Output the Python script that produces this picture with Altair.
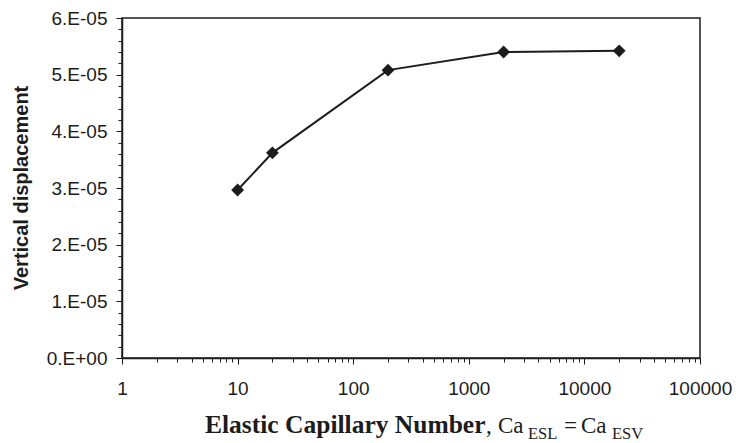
import altair as alt
import pandas as pd

# ---- data ----
ca_values = [10, 20, 200, 2000, 20000]
displacement = [2.965e-05, 3.62e-05, 5.08e-05, 5.40e-05, 5.42e-05]

x_tick_values = [1, 10, 100, 1000, 10000, 100000]
x_tick_labels = ["1", "10", "100", "1000", "10000", "100000"]
y_tick_values = [0, 1e-05, 2e-05, 3e-05, 4e-05, 5e-05, 6e-05]
y_tick_labels = ["0.E+00", "1.E-05", "2.E-05", "3.E-05", "4.E-05", "5.E-05", "6.E-05"]

y_title = "Vertical displacement"
x_title_main = "Elastic Capillary Number"

df = pd.DataFrame({"ca": ca_values, "disp": displacement})

x_minor = [d * 10 ** k for k in range(5) for d in range(2, 10)]
y_minor = [round(k * 2e-06, 12) for k in range(31) if k % 5 != 0]


def label_expr(values, labels):
    vals = "[" + ",".join(repr(v) for v in values) + "]"
    labs = "[" + ",".join("'" + l + "'" for l in labels) + "]"
    return f"indexof({vals}, datum.value) >= 0 ? {labs}[indexof({vals}, datum.value)] : ''"


def major_test(values):
    vals = "[" + ",".join(repr(v) for v in values) + "]"
    return f"indexof({vals}, datum.value) >= 0"


W, H = 578, 340
LABEL_FONT = "Liberation Sans"
SERIF = "Liberation Serif"
INK = "#1c1c1c"

x_enc = alt.X(
    "ca:Q",
    scale=alt.Scale(type="log", domain=[1, 100000], nice=False),
    axis=alt.Axis(
        values=x_tick_values + x_minor,
        labelExpr=label_expr(x_tick_values, x_tick_labels),
        tickSize={"condition": {"test": major_test(x_tick_values), "value": 6}, "value": 4},
        labelPadding=15,
        labelFlush=False,
        labelOverlap=False,
        labelFont=LABEL_FONT,
        labelFontSize=19,
        labelColor=INK,
        grid=False,
        title=None,
        domainColor=INK,
        domainWidth=1.5,
        tickColor=INK,
        tickWidth=1,
    ),
)
y_enc = alt.Y(
    "disp:Q",
    scale=alt.Scale(domain=[0, 6e-05], nice=False, zero=True),
    axis=alt.Axis(
        values=y_tick_values + y_minor,
        labelExpr=label_expr(y_tick_values, y_tick_labels),
        tickSize={"condition": {"test": major_test(y_tick_values), "value": 6}, "value": 4},
        labelPadding=9,
        labelOverlap=False,
        labelFont=LABEL_FONT,
        labelFontSize=19,
        labelColor=INK,
        grid=False,
        title=None,
        domainColor=INK,
        domainWidth=1.5,
        tickColor=INK,
        tickWidth=1,
    ),
)

base = alt.Chart(df).encode(x=x_enc, y=y_enc)
line = base.mark_line(color=INK, strokeWidth=2)
points = base.mark_point(shape="diamond", filled=True, size=165, color=INK, opacity=1)

note = alt.Chart(pd.DataFrame({"t": [0]}))

ytitle = note.mark_text(
    text=y_title, font=LABEL_FONT, fontSize=20, fontWeight="bold", angle=270,
    align="center", baseline="alphabetic", color=INK,
).encode(x=alt.value(-94), y=alt.value(170))

BASE_Y = 415
SUB_Y = 421
xt1 = note.mark_text(text=x_title_main, font=SERIF, fontSize=25.5, fontWeight="bold",
                     align="left", baseline="alphabetic", color=INK).encode(x=alt.value(83), y=alt.value(BASE_Y))
xt2 = note.mark_text(text=",", font=SERIF, fontSize=23, align="left",
                     baseline="alphabetic", color=INK).encode(x=alt.value(364), y=alt.value(BASE_Y))
xt3 = note.mark_text(text="Ca", font=SERIF, fontSize=23, align="left",
                     baseline="alphabetic", color=INK).encode(x=alt.value(376), y=alt.value(BASE_Y))
xt4 = note.mark_text(text="ESL", font=SERIF, fontSize=16.5, align="left",
                     baseline="alphabetic", color=INK).encode(x=alt.value(406), y=alt.value(SUB_Y))
xt5 = note.mark_text(text="=", font=SERIF, fontSize=23, align="left",
                     baseline="alphabetic", color=INK).encode(x=alt.value(442), y=alt.value(BASE_Y))
xt6 = note.mark_text(text="Ca", font=SERIF, fontSize=23, align="left",
                     baseline="alphabetic", color=INK).encode(x=alt.value(459), y=alt.value(BASE_Y))
xt7 = note.mark_text(text="ESV", font=SERIF, fontSize=16.5, align="left",
                     baseline="alphabetic", color=INK).encode(x=alt.value(490), y=alt.value(SUB_Y))

chart = alt.layer(line, points, ytitle, xt1, xt2, xt3, xt4, xt5, xt6, xt7).properties(
    width=W,
    height=H,
    autosize=alt.AutoSizeParams(type="none"),
    padding={"left": 122, "top": 18, "right": 36, "bottom": 85},
    background="white",
).configure_view(
    stroke=INK, strokeWidth=1.5
)

chart.save("out.html", embed_options={"renderer": "svg", "actions": False})
